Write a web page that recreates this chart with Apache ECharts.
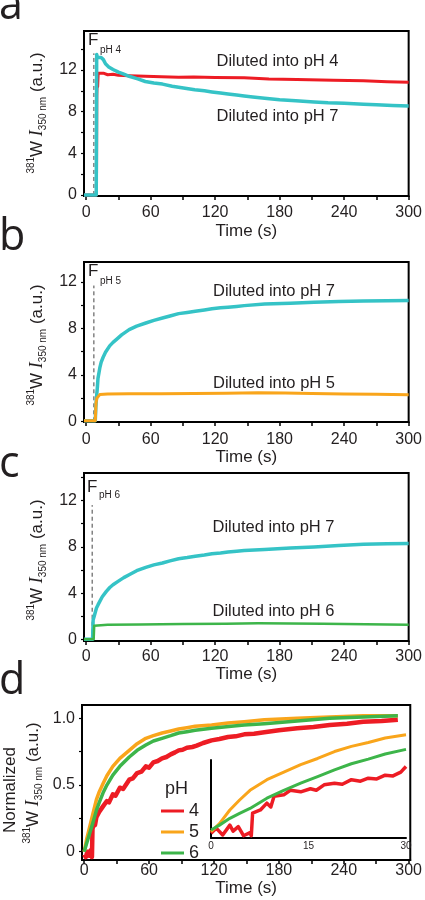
<!DOCTYPE html>
<html><head><meta charset="utf-8">
<script src="https://cdn.jsdelivr.net/npm/echarts@6/dist/echarts.min.js"></script>
<style>html,body{margin:0;padding:0;background:#fff}#c{width:425px;height:900px}</style>
</head><body><div id="c"></div><script>
// ---------- data (time in s, intensity in a.u.) ----------
const xTickValues = [0,30,60,90,120,150,180,210,240,270,300];
const xLabelValues = [0,60,120,180,240,300];
const yLabelValuesABC = [0,4,8,12];
const yLabelValuesD = [0,0.5,1.0];
const yTickValuesD = [0,0.25,0.5,0.75,1.0];
const insetXLabelValues = [0,15,30];
const dilutionTimes = [7.2, 7.2, 5.6];
const dilutionTops = [13.6, 11.7, 11.6];
const panelA_pH4 = [[-2,0],[9.6,0],[9.9,9.5],[10.3,11.2],[10.7,10.4],[11.2,11.7],[13,11.6],[16,11.7],[20,11.55],[25,11.6],[30,11.5],[40,11.45],[55,11.4],[70,11.35],[86,11.3],[100,11.32],[120,11.28],[147,11.25],[170,11.15],[196,11.1],[230,11.02],[258,10.96],[280,10.88],[300,10.82]];
const panelA_pH7 = [[-2,0],[9.4,0],[9.8,13.5],[10.5,13.2],[12,13.05],[14,13.2],[16,13.0],[18,12.6],[21,12.3],[25,12.05],[30,11.8],[35,11.6],[40,11.4],[48,11.15],[55,10.9],[63,10.75],[71,10.65],[80,10.45],[86,10.35],[95,10.2],[101,10.1],[110,10.0],[117,9.9],[125,9.8],[132,9.7],[140,9.6],[147,9.5],[155,9.4],[166,9.28],[180,9.15],[195,9.05],[212,8.94],[225,8.85],[240,8.8],[258,8.72],[270,8.66],[285,8.6],[300,8.55]];
const panelB_pH7 = [[-2,0.05],[8.5,0.05],[9,1.2],[9.6,2.0],[10.5,3.0],[11,3.7],[12.7,4.6],[14,5.1],[15.7,5.5],[18,5.95],[21.9,6.5],[25,6.8],[28,7.04],[33,7.45],[40,7.9],[47,8.2],[55.5,8.47],[63,8.7],[71,8.9],[78,9.08],[86,9.28],[94,9.38],[101.5,9.48],[110,9.6],[117,9.7],[125,9.78],[132,9.83],[140,9.9],[147,9.97],[166,10.1],[190,10.18],[212,10.26],[235,10.32],[258,10.37],[280,10.4],[300,10.42]];
const panelB_pH5 = [[-2,0.05],[8.5,0.05],[9.2,1.6],[10,2.0],[12.7,2.3],[20,2.35],[40,2.38],[70,2.37],[100,2.4],[130,2.42],[160,2.47],[185,2.45],[210,2.4],[240,2.35],[270,2.33],[300,2.28]];
const panelC_pH7 = [[-2,0.05],[6,0.05],[6.5,1.7],[8,2.2],[9.6,2.73],[11,3.0],[12.7,3.3],[15,3.7],[18.8,4.17],[22,4.5],[25,4.74],[30,5.05],[35,5.35],[40,5.6],[47,5.95],[55.5,6.24],[63,6.45],[71,6.61],[78,6.8],[86,6.98],[94,7.08],[101.5,7.19],[110,7.3],[117,7.41],[125,7.48],[132,7.56],[140,7.63],[147,7.68],[166,7.78],[190,7.9],[212,8.0],[235,8.12],[258,8.22],[280,8.27],[300,8.3]];
const panelC_pH6 = [[-2,0.05],[7,0.05],[7.5,1.2],[9,1.3],[20,1.3],[50,1.32],[90,1.35],[130,1.38],[160,1.41],[190,1.4],[220,1.37],[260,1.33],[300,1.3]];
const panelD_pH4 = [[0,-0.02],[1.5,-0.04],[3,0.0],[4.5,-0.03],[6,0.01],[7.2,-0.04],[7.7,0.17],[9,0.22],[10,0.2],[11.3,0.26],[12.5,0.25],[14,0.3],[15.5,0.29],[17.4,0.34],[19,0.33],[21,0.38],[23,0.37],[26.5,0.43],[29,0.42],[33,0.48],[36,0.47],[41.7,0.54],[45,0.55],[49,0.59],[53,0.6],[57,0.64],[60,0.63],[64,0.67],[68,0.68],[72,0.70],[76,0.71],[80,0.73],[84,0.745],[87.4,0.76],[91,0.765],[95,0.78],[100,0.785],[104,0.795],[110,0.815],[117.8,0.835],[125,0.845],[133,0.86],[140,0.865],[148,0.88],[157,0.885],[166.6,0.895],[180,0.91],[197,0.925],[212,0.935],[227,0.95],[243,0.96],[258,0.975],[275,0.98],[290,0.99]];
const panelD_pH5 = [[0,0],[2.2,0.09],[5.2,0.19],[8.2,0.29],[11.3,0.39],[14,0.45],[17.4,0.51],[21,0.57],[26.5,0.64],[33,0.70],[41.7,0.76],[49,0.81],[57,0.85],[64,0.87],[72,0.89],[80,0.905],[87.4,0.92],[95,0.93],[102.6,0.94],[117.8,0.95],[133,0.965],[148,0.975],[166.6,0.99],[197,1.0],[227,1.01],[258,1.02],[290,1.02]];
const panelD_pH6 = [[0,0],[2.2,0.06],[5.2,0.14],[8.2,0.22],[11.3,0.31],[14,0.37],[17.4,0.44],[21,0.5],[26.5,0.575],[33,0.64],[41.7,0.71],[49,0.76],[57,0.80],[64,0.83],[72,0.85],[80,0.87],[87.4,0.89],[95,0.9],[102.6,0.91],[117.8,0.925],[136,0.94],[148,0.95],[166.6,0.96],[197,0.98],[227,1.0],[258,1.01],[290,1.02]];
const inset_pH4 = [[0,0.016],[0.8,0.05],[1.8,0.005],[2.9,0.07],[3.4,0.03],[4.2,0.06],[5,0.0],[6,0.02],[6.2,0.0],[6.4,0.15],[7.6,0.17],[8.6,0.215],[9.2,0.19],[9.7,0.26],[11.2,0.27],[12.2,0.30],[13.8,0.29],[15.3,0.31],[16.2,0.3],[17.4,0.336],[19,0.347],[20.2,0.34],[21.6,0.37],[23,0.36],[24.2,0.38],[25.5,0.375],[26.8,0.40],[28,0.395],[29.2,0.42],[30,0.457]];
const inset_pH5 = [[0,0.026],[1.3,0.08],[2.9,0.17],[4.4,0.236],[6,0.30],[8.6,0.37],[11.2,0.42],[13.8,0.47],[16.4,0.51],[19,0.556],[21.6,0.59],[24.2,0.616],[26.8,0.645],[30,0.667]];
const inset_pH6 = [[0,0.038],[1.3,0.07],[2.9,0.115],[4.4,0.148],[6,0.18],[8.6,0.248],[11.2,0.30],[13.8,0.347],[16.4,0.39],[19,0.435],[21.6,0.475],[24.2,0.506],[26.8,0.54],[30,0.57]];

// ---------- styling ----------
const SANS = "'Liberation Sans', Arial, sans-serif";
const TXT = '#231f20';
const RED = '#ED1C24', CYAN = '#35C3C6', ORANGE = '#F9A51B', GREEN = '#3DB54A';

const grids = [
  {left:84, right:12, top:31, height:165},
  {left:84, right:12, top:262, height:160},
  {left:84, right:12, top:473, height:168},
  {left:82, right:11, top:705, height:155},
  {left:211, right:19, top:760, height:78}
].map((g,i)=>Object.assign({show:i<4, borderColor:'#000', borderWidth:2, containLabel:false}, g));

function xAx(gi, max, margin, gap){
  return {type:'value', gridIndex:gi, min:-2, max:max,
    axisLine:{onZero:false, lineStyle:{color:'#000', width:2}},
    axisTick:{customValues:xTickValues, length:4, lineStyle:{color:'#000', width:1.5}},
    axisLabel:{customValues:xLabelValues, fontSize:16, color:TXT, fontFamily:SANS, margin:margin},
    splitLine:{show:false},
    name:'Time (s)', nameLocation:'middle', nameGap:gap,
    nameTextStyle:{fontSize:17, color:TXT, fontFamily:SANS}};
}
function yAx(gi, min, max){
  const ticks = [0,2,4,6,8,10,12,14].filter(v=>v<=max);
  return {type:'value', gridIndex:gi, min:min, max:max,
    axisLine:{onZero:false, lineStyle:{color:'#000', width:2}},
    axisTick:{customValues:ticks, length:3, lineStyle:{color:'#000', width:1.2}},
    axisLabel:{customValues:yLabelValuesABC, fontSize:16, color:TXT, fontFamily:SANS, margin:7},
    splitLine:{show:false}};
}
const xAxis = [
  xAx(0, 300, 9, 27), xAx(1, 300, 10, 27), xAx(2, 300, 8, 25),
  xAx(3, 301.5, 3, 19),
  {type:'value', gridIndex:4, min:0, max:30,
    axisLine:{onZero:false, lineStyle:{color:'#000', width:2}},
    axisTick:{show:false},
    axisLabel:{customValues:insetXLabelValues, fontSize:10, color:TXT, fontFamily:SANS, margin:3},
    splitLine:{show:false}}
];
const yAxis = [
  yAx(0, -0.1, 15.75), yAx(1, -0.06, 13.73), yAx(2, -0.11, 14.37),
  {type:'value', gridIndex:3, min:-0.062, max:1.10,
    axisLine:{onZero:false, lineStyle:{color:'#000', width:2}},
    axisTick:{customValues:yTickValuesD, length:3, lineStyle:{color:'#000', width:1.2}},
    axisLabel:{customValues:yLabelValuesD, fontSize:16, color:TXT, fontFamily:SANS, margin:7,
      formatter:v=> v===0 ? '0' : v.toFixed(1)},
    splitLine:{show:false}},
  {type:'value', gridIndex:4, min:-0.015, max:0.5,
    axisLine:{onZero:false, lineStyle:{color:'#000', width:2}},
    axisTick:{show:false}, axisLabel:{show:false}, splitLine:{show:false}}
];

function ln(name, data, color, gi, width, clip){
  return {type:'line', name:name, data:data, xAxisIndex:gi, yAxisIndex:gi,
    showSymbol:false, symbol:'none', silent:true, clip:clip!==false,
    lineStyle:{color:color, width:width, join:'round'}, itemStyle:{color:color}};
}
function dash(gi){
  return {type:'line', data:[[dilutionTimes[gi],0],[dilutionTimes[gi],dilutionTops[gi]]],
    xAxisIndex:gi, yAxisIndex:gi, showSymbol:false, symbol:'none', silent:true,
    lineStyle:{color:'#444', width:1, type:[4,3]}};
}
const series = [
  dash(0), ln('a4', panelA_pH4, RED, 0, 3), ln('a7', panelA_pH7, CYAN, 0, 3.5),
  dash(1), ln('b7', panelB_pH7, CYAN, 1, 3.5), ln('b5', panelB_pH5, ORANGE, 1, 3),
  dash(2), ln('c7', panelC_pH7, CYAN, 2, 3.5), ln('c6', panelC_pH6, GREEN, 2, 2.5),
  ln('4', panelD_pH4, RED, 3, 4.5), ln('5', panelD_pH5, ORANGE, 3, 3.5), ln('6', panelD_pH6, GREEN, 3, 3.5),
  ln('i4', inset_pH4, RED, 4, 3.5, false), ln('i5', inset_pH5, ORANGE, 4, 3, false), ln('i6', inset_pH6, GREEN, 4, 3, false)
];

function txt(x, y, s, size, extra){
  return {type:'text', x:x, y:y, silent:true,
    style:Object.assign({text:s, fontSize:size, fontFamily:SANS, fill:TXT, align:'left', verticalAlign:'middle'}, extra||{})};
}
function yTitle(x, y){
  return {type:'text', x:x, y:y, rotation:Math.PI/2, silent:true,
    style:{text:'{sup|381}{m|W }{i|I}{sub|350 nm}{m| (a.u.)}', align:'center', verticalAlign:'middle',
      fill:TXT, fontFamily:SANS, fontSize:17,
      rich:{
        m:{fontSize:17, fontFamily:SANS, fill:TXT, lineHeight:22},
        sup:{fontSize:10, fontFamily:SANS, fill:TXT, verticalAlign:'top', lineHeight:22, padding:[0,0,8,0]},
        sub:{fontSize:10, fontFamily:SANS, fill:TXT, verticalAlign:'bottom', lineHeight:22, padding:[6,0,0,0]},
        i:{fontSize:18, fontFamily:"'Liberation Serif', 'DejaVu Serif', serif", fontStyle:'italic', fill:TXT, lineHeight:22}
      }}};
}
const LETTER = "'Open Sans', 'Liberation Sans', sans-serif";
const graphic = [
  txt(-1, 7, 'a', 43, {fontFamily:LETTER}),
  txt(-1, 238, 'b', 43, {fontFamily:LETTER}),
  txt(-1, 465, 'c', 43, {fontFamily:LETTER}),
  txt(-1, 682, 'd', 43, {fontFamily:LETTER}),
  txt(88, 40.5, 'F', 17), txt(100, 49.8, 'pH 4', 10),
  txt(88, 271.5, 'F', 17), txt(100, 280.8, 'pH 5', 10),
  txt(87, 487.5, 'F', 17), txt(99, 494.8, 'pH 6', 10),
  txt(216.5, 61.5, 'Diluted into pH 4', 16.5), txt(216.5, 116.5, 'Diluted into pH 7', 16.5),
  txt(213, 291, 'Diluted into pH 7', 16.5), txt(213, 383, 'Diluted into pH 5', 16.5),
  txt(212.5, 527, 'Diluted into pH 7', 16.5), txt(212.5, 611, 'Diluted into pH 6', 16.5),
  yTitle(37, 113), yTitle(37, 345), yTitle(37, 560), yTitle(33, 783),
  {type:'text', x:10, y:790, rotation:Math.PI/2, silent:true,
    style:{text:'Normalized', fontSize:17, fontFamily:SANS, fill:TXT, align:'center', verticalAlign:'middle'}},
  txt(165, 789, 'pH', 18)
];

const chart = echarts.init(document.getElementById('c'), null, {renderer:'canvas'});
chart.setOption({
  animation:false, backgroundColor:'#fff',
  grid:grids, xAxis:xAxis, yAxis:yAxis, series:series, graphic:graphic,
  legend:{data:['4','5','6'], orient:'vertical', left:156, top:797, icon:'rect',
    itemWidth:23, itemHeight:3, itemGap:3, selectedMode:false,
    textStyle:{fontSize:18, color:TXT, fontFamily:SANS, lineHeight:18}}
});
</script></body></html>
